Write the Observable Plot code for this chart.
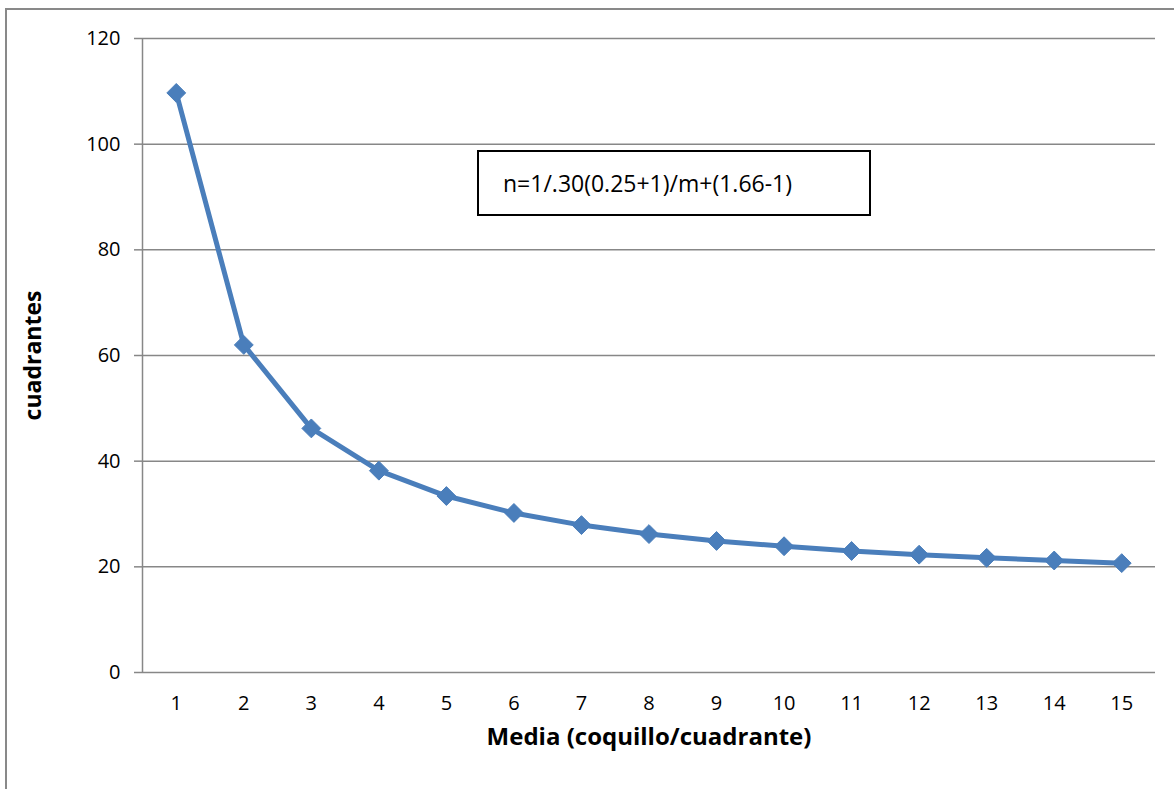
<!DOCTYPE html>
<html>
<head>
<meta charset="utf-8">
<script src="https://cdn.jsdelivr.net/npm/d3@7"></script>
<script src="https://cdn.jsdelivr.net/npm/@observablehq/plot@0.6"></script>
<style>
  html, body { margin: 0; padding: 0; background: #fff; width: 1174px; height: 789px; overflow: hidden; }
  #frame { position: absolute; left: 5px; top: 8px; width: 1200px; height: 900px; border: 2px solid #898989; box-sizing: border-box; }
  #chart { position: absolute; left: 0; top: 0; }
  #note { position: absolute; left: 477px; top: 150px; width: 394px; height: 66px; box-sizing: border-box;
          border: 2px solid #000; font-family: "Open Sans", sans-serif; font-size: 23px; color: #000;
          display: flex; align-items: center; padding-left: 24px; background: #fff; }
</style>
</head>
<body>
<div id="frame"></div>
<div id="chart"></div>
<div id="note">n=1/.30(0.25+1)/m+(1.66-1)</div>
<script>
const media = [1, 2, 3, 4, 5, 6, 7, 8, 9, 10, 11, 12, 13, 14, 15];
const cuadrantes = [109.7, 62.0, 46.2, 38.2, 33.4, 30.2, 27.9, 26.2, 24.9, 23.9, 23.0, 22.3, 21.7, 21.2, 20.7];
const yTicks = [0, 20, 40, 60, 80, 100, 120];
const xTitle = "Media (coquillo/cuadrante)";
const yTitle = "cuadrantes";

const data = media.map((m, i) => ({m, n: cuadrantes[i]}));
const grid = "#878787";
const blue = "#4a7ebb";
const font = "'Open Sans', sans-serif";

const chart = Plot.plot({
  width: 1174,
  height: 789,
  marginLeft: 142,
  marginRight: 19,
  marginTop: 38,
  marginBottom: 117,
  style: {fontFamily: font, fontSize: "20px", color: "#000", background: "transparent", overflow: "visible"},
  x: {type: "linear", domain: [0.5, 15.5], label: null},
  y: {domain: [0, 120], label: null},
  marks: [
    Plot.ruleY(yTicks.filter(d => d > 0), {stroke: grid, strokeWidth: 1.5}),
    Plot.ruleX([0.5], {stroke: grid, strokeWidth: 1.5}),
    Plot.ruleY([0], {stroke: grid, strokeWidth: 1.5}),
    Plot.axisY({ticks: yTicks, tickSize: 8, tickPadding: 14, stroke: grid, strokeWidth: 1.5, strokeOpacity: 1, fontSize: 20, label: null}),
    Plot.axisX({ticks: media, tickSize: 0, tickPadding: 23, fontSize: 20, tickFormat: d => String(d), label: null}),
    Plot.line(data, {x: "m", y: "n", stroke: blue, strokeWidth: 5, strokeLinejoin: "round"}),
    Plot.dot(data, {x: "m", y: "n", symbol: "diamond2", r: 8.5, fill: blue, stroke: blue, strokeWidth: 1}),
    Plot.text([xTitle], {frameAnchor: "bottom", dy: 72, text: d => d, fontWeight: "bold", fontSize: 24, fill: "#000"}),
    Plot.text([yTitle], {frameAnchor: "left", textAnchor: "middle", dx: -109, rotate: -90, text: d => d, fontWeight: "bold", fontSize: 23, fill: "#000"})
  ]
});
document.getElementById("chart").appendChild(chart);
</script>
</body>
</html>
